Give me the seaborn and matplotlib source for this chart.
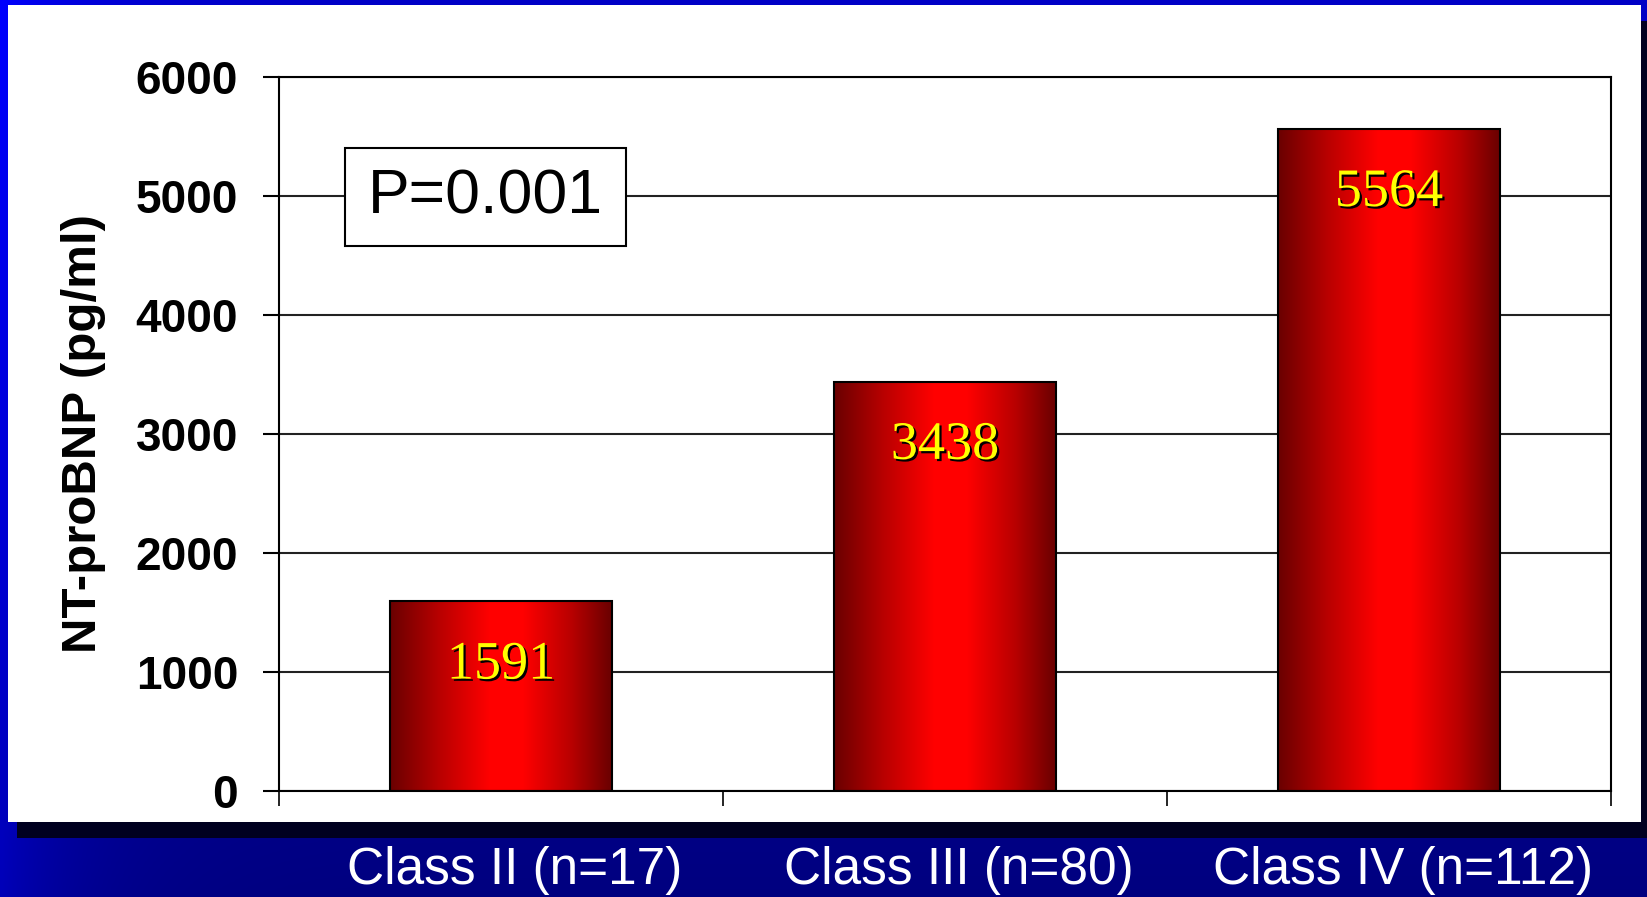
import matplotlib
matplotlib.use("Agg")
import matplotlib.pyplot as plt
import matplotlib.patheffects as pe
import matplotlib.transforms as mtransforms
from matplotlib.colors import LinearSegmentedColormap
from matplotlib.patches import Rectangle
import numpy as np
import pandas as pd
import seaborn as sns

# data
classes = ["Class II (n=17)", "Class III (n=80)", "Class IV (n=112)"]
ntprobnp = [1591, 3438, 5564]
y_ticks = [0, 1000, 2000, 3000, 4000, 5000, 6000]
p_text = "P=0.001"
y_label = "NT-proBNP (pg/ml)"

df = pd.DataFrame({"cls": classes, "value": ntprobnp})

sns.set_theme(style="white")
plt.rcParams["font.family"] = ["Liberation Sans", "DejaVu Sans"]

fig = plt.figure(figsize=(16.47, 8.97), dpi=100)

# navy slide background with a soft gradient
bg = fig.add_axes([0, 0, 1, 1], zorder=-10)
xx, yy = np.meshgrid(np.linspace(0, 1, 400), np.linspace(0, 1, 300))
blue = 0.5 + 0.28 * (1 - yy) + 0.22 * np.exp(-xx * 20)
img = np.dstack([np.zeros_like(blue), np.zeros_like(blue), blue])
bg.imshow(img, extent=[0, 1, 0, 1], aspect="auto", origin="upper")
bg.set_axis_off()

# white panel and its dark drop shadow
W, H = 1647, 897
fig.patches.append(Rectangle((17 / W, 1 - 838 / H), 1.0, (838 - 21) / H,
                             transform=fig.transFigure, facecolor="#000020",
                             edgecolor="none", zorder=-5))
fig.patches.append(Rectangle((8 / W, 1 - 822 / H), (1641 - 8) / W, (822 - 5) / H,
                             transform=fig.transFigure, facecolor="white",
                             edgecolor="none", zorder=-4))

ax = fig.add_axes([279 / W, 1 - 790.7 / H, (1611 - 279) / W, (790.7 - 77) / H])
ax.patch.set_alpha(0)

sns.barplot(data=df, x="cls", y="value", color="red", width=0.5,
            edgecolor="black", linewidth=1.5, ax=ax)

grad = LinearSegmentedColormap.from_list(
    "barred", [(0, "#6a0000"), (0.22, "#b80000"), (0.45, "#ff0000"),
               (0.6, "#ff0000"), (0.82, "#b80000"), (1, "#6a0000")])
ramp = np.linspace(0, 1, 256).reshape(1, -1)
for bar in ax.patches:
    x0, w, h = bar.get_x(), bar.get_width(), bar.get_height()
    im = ax.imshow(ramp, cmap=grad, extent=[x0, x0 + w, 0, h],
                   aspect="auto", zorder=2.5)
    im.set_clip_path(bar)
    bar.set_facecolor("none")
    bar.set_zorder(3)

for i, v in enumerate(ntprobnp):
    ax.annotate(str(v), (i, v), xytext=(0, -46), textcoords="offset points",
                ha="center", va="center", color="#ffff00", fontsize=39,
                family=["Liberation Serif", "DejaVu Serif"], zorder=5,
                path_effects=[pe.withSimplePatchShadow(offset=(1.6, -1.6),
                                                       shadow_rgbFace="black",
                                                       alpha=1.0)])

ax.set_xlim(-0.5, 2.5)
ax.set_ylim(0, 6000)
ax.set_yticks(y_ticks)
ax.set_yticklabels([str(t) for t in y_ticks], fontsize=33, fontweight="bold",
                   color="black")
ax.set_axisbelow(True)
ax.yaxis.grid(True, color="#222222", linewidth=1.5)
ax.xaxis.grid(False)
for s in ax.spines.values():
    s.set_visible(True)
    s.set_color("black")
    s.set_linewidth(1.5)

ax.tick_params(axis="y", direction="out", length=11.5, width=1.5,
               color="black", pad=18, left=True)
ax.set_xticks([-0.5, 0.5, 1.5, 2.5], minor=True)
ax.tick_params(axis="x", which="minor", direction="out", length=11,
               width=1.2, color="black", bottom=True)
ax.tick_params(axis="x", which="major", length=0, pad=40)
ax.set_xticklabels(classes, fontsize=37, color="white")
shift = mtransforms.ScaledTranslation(14 / 100, 0, fig.dpi_scale_trans)
for lab in ax.get_xticklabels():
    lab.set_transform(lab.get_transform() + shift)

ax.set_xlabel("")
ax.set_ylabel(y_label, fontsize=35.5, fontweight="bold", color="black")
ax.yaxis.set_label_coords(-0.13, 0.5)

# P-value box
mixed = mtransforms.blended_transform_factory(ax.transAxes, ax.transData)
ax.add_patch(Rectangle((0.0495, 4579), 0.2605 - 0.0495, 5403 - 4579,
                       transform=mixed, facecolor="white", edgecolor="black",
                       linewidth=1.5, zorder=4))
ax.text(0.155, 4991, p_text, transform=mixed, ha="center", va="center",
        fontsize=45, color="black", zorder=5)

fig.savefig("out.png", dpi=100)
